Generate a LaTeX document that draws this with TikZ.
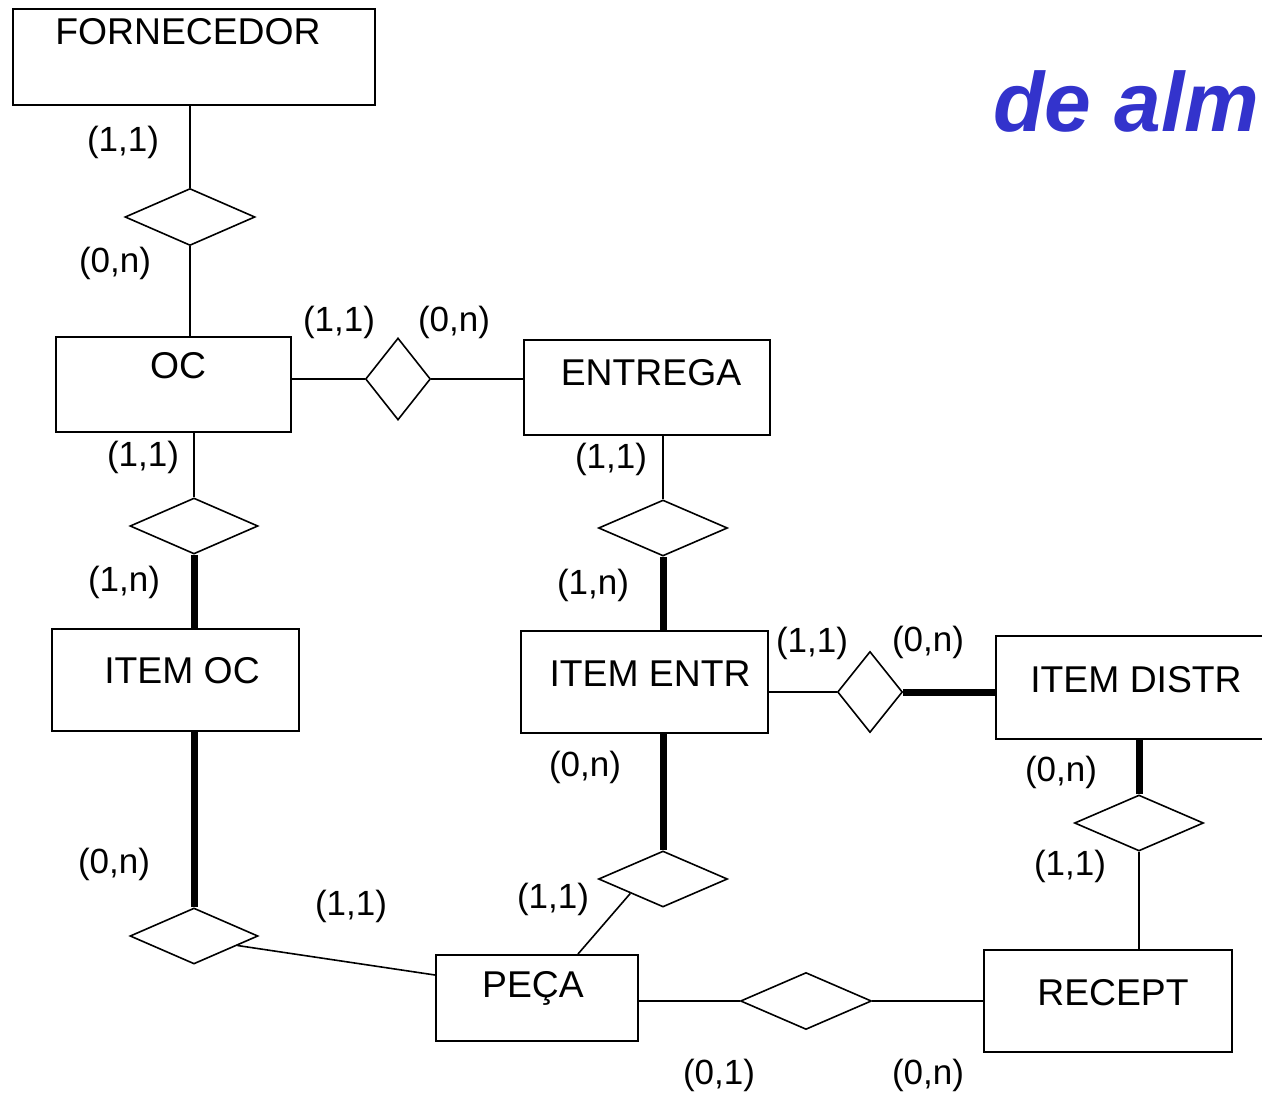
\documentclass[tikz,border=0pt]{standalone}
\usepackage{fontspec}
\setmainfont{Liberation Sans}
\usetikzlibrary{shapes.geometric,calc}
\definecolor{titleblue}{RGB}{51,51,204}
\begin{document}
\begin{tikzpicture}[x=1pt,y=-1pt,
  thinline/.style={line width=1.6pt},
  thickline/.style={line width=7pt},
  entity/.style={draw, rectangle, line width=1.6pt, inner sep=0pt, anchor=north west},
  etext/.style={anchor=base, inner sep=0pt, font=\fontsize{37.3}{41}\selectfont},
  rel/.style={draw, diamond, line width=1.6pt, inner sep=0pt, fill=white},
  card/.style={inner sep=0pt, font=\fontsize{35}{39}\selectfont}
]
\useasboundingbox (0,0) rectangle (1262,1094);

% entities
\node[entity, minimum width=362pt, minimum height=96pt] (forn) at (12,8) {};
\node[etext] (forn-t) at (188,45) {FORNECEDOR};
\node[entity, minimum width=235pt, minimum height=95pt] (oc) at (55,336) {};
\node[etext] (oc-t) at (178,378) {OC};
\node[entity, minimum width=246pt, minimum height=95pt] (entrega) at (523,339) {};
\node[etext] (entrega-t) at (651,385) {ENTREGA};
\node[entity, minimum width=247pt, minimum height=102pt] (itemoc) at (51,628) {};
\node[etext] (itemoc-t) at (182,683) {ITEM OC};
\node[entity, minimum width=247pt, minimum height=102pt] (itementr) at (520,630) {};
\node[etext] (itementr-t) at (650,686) {ITEM ENTR};
\node[entity, minimum width=300pt, minimum height=103pt] (itemdistr) at (995,635) {};
\node[etext] (itemdistr-t) at (1136,692) {ITEM DISTR};
\node[entity, minimum width=202pt, minimum height=86pt] (peca) at (435,954) {};
\node[etext] (peca-t) at (533,997) {PEÇA};
\node[entity, minimum width=248pt, minimum height=102pt] (recept) at (983,949) {};
\node[etext] (recept-t) at (1113,1005) {RECEPT};

% relationships
\node[rel, minimum width=130pt, minimum height=57pt] (d1) at (190,217) {};
\node[rel, minimum width=65pt, minimum height=82pt] (d2) at (398,379) {};
\node[rel, minimum width=128pt, minimum height=56pt] (d3) at (194,526) {};
\node[rel, minimum width=129pt, minimum height=56pt] (d4) at (663,528) {};
\node[rel, minimum width=65pt, minimum height=81pt] (d5) at (870,692) {};
\node[rel, minimum width=129pt, minimum height=56pt] (d6) at (1139,823) {};
\node[rel, minimum width=129pt, minimum height=56pt] (d7) at (663,879) {};
\node[rel, minimum width=128pt, minimum height=56pt] (d8) at (194,936) {};
\node[rel, minimum width=131pt, minimum height=57pt] (d9) at (806,1001) {};

\coordinate (peca-top) at (578,954);
\coordinate (peca-left) at (435,975);

% connectors
\draw[thinline] (forn.south -| d1.north) -- (d1.north);
\draw[thinline] (d1.south) -- (oc.north -| d1.south);
\draw[thinline] (oc.east |- d2.west) -- (d2.west);
\draw[thinline] (d2.east) -- (entrega.west |- d2.east);
\draw[thinline] (oc.south -| d3.north) -- (d3.north);
\draw[thickline] (d3.south) -- (itemoc.north -| d3.south);
\draw[thinline] (entrega.south -| d4.north) -- (d4.north);
\draw[thickline] (d4.south) -- (itementr.north -| d4.south);
\draw[thinline] (itementr.east |- d5.west) -- (d5.west);
\draw[thickline] (d5.east) -- (itemdistr.west |- d5.east);
\draw[thickline] (itemdistr.south -| d6.north) -- (d6.north);
\draw[thinline] (d6.south) -- (recept.north -| d6.south);
\draw[thickline] (itementr.south -| d7.north) -- (d7.north);
\draw[thinline] (d7.south west) -- (peca-top);
\draw[thickline] (itemoc.south -| d8.north) -- (d8.north);
\draw[thinline] ($(d8.east)!0.33!(d8.south)$) -- (peca-left);
\draw[thinline] (peca.east |- d9.west) -- (d9.west);
\draw[thinline] (d9.east) -- (recept.west |- d9.east);

% cardinalities
\node[card] (c1) at (123,142) {(1,1)};
\node[card] (c2) at (115,263) {(0,n)};
\node[card] (c3) at (339,322) {(1,1)};
\node[card] (c4) at (454,322) {(0,n)};
\node[card] (c5) at (143,457) {(1,1)};
\node[card] (c6) at (611,459) {(1,1)};
\node[card] (c7) at (124,582) {(1,n)};
\node[card] (c8) at (593,585) {(1,n)};
\node[card] (c9) at (812,643) {(1,1)};
\node[card] (c10) at (928,642) {(0,n)};
\node[card] (c11) at (585,767) {(0,n)};
\node[card] (c12) at (1061,772) {(0,n)};
\node[card] (c13) at (1070,866) {(1,1)};
\node[card] (c14) at (114,864) {(0,n)};
\node[card] (c15) at (351,906) {(1,1)};
\node[card] (c16) at (553,899) {(1,1)};
\node[card] (c17) at (719,1075) {(0,1)};
\node[card] (c18) at (928,1075) {(0,n)};

% heading
\node[anchor=base west, inner sep=0pt, text=titleblue,
      font=\fontsize{84}{90}\selectfont\bfseries\itshape] (title) at (993,132) {de alm};
\end{tikzpicture}
\end{document}
